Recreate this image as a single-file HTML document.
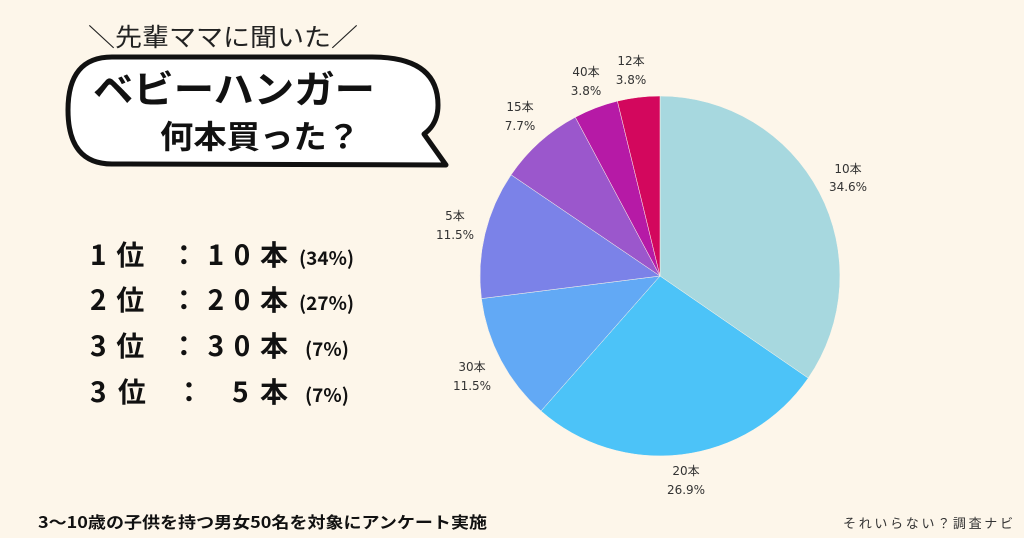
<!DOCTYPE html>
<html><head><meta charset="utf-8"><style>
body{margin:0;width:1024px;height:538px;background:#fdf6ea;overflow:hidden;font-family:"Liberation Sans","Noto Sans CJK JP",sans-serif}
</style></head><body>
<svg width="1024" height="538" xmlns="http://www.w3.org/2000/svg" style="position:absolute;left:0;top:0">
<rect width="1024" height="538" fill="#fdf6ea"/>
<path d="M112,57 L372,57 Q438,57 438,105 Q438,124 424,134 L446,165 L112,164 Q68,164 68,110 Q68,57 112,57 Z" fill="#fff" stroke="#111" stroke-width="5" stroke-linejoin="round"/>
<g font-family="'Noto Sans CJK JP',sans-serif" fill="#111">
<text x="88" y="46" font-size="25" fill="#222" textLength="270" lengthAdjust="spacingAndGlyphs">＼先輩ママに聞いた／</text>
<text x="93" y="103" font-size="38" font-weight="bold" textLength="282" lengthAdjust="spacingAndGlyphs">ベビーハンガー</text>
<text x="160" y="148" font-size="32" font-weight="bold" textLength="200" lengthAdjust="spacingAndGlyphs">何本買った？</text>
<text x="90" y="265" font-size="28" font-weight="bold" textLength="198" lengthAdjust="spacing">1位 ：10本</text>
<text x="90" y="310" font-size="28" font-weight="bold" textLength="198" lengthAdjust="spacing">2位 ：20本</text>
<text x="90" y="356" font-size="28" font-weight="bold" textLength="198" lengthAdjust="spacing">3位 ：30本</text>
<text x="90" y="402" font-size="28" font-weight="bold" textLength="198" lengthAdjust="spacing">3位 ：  5本</text>
<text x="299" y="265" font-size="19" font-weight="bold">(34%)</text>
<text x="299" y="310" font-size="19" font-weight="bold">(27%)</text>
<text x="305" y="356" font-size="19" font-weight="bold">(7%)</text>
<text x="305" y="402" font-size="19" font-weight="bold">(7%)</text>
<text x="38" y="528" font-size="16" font-weight="bold" textLength="449" lengthAdjust="spacingAndGlyphs">3〜10歳の子供を持つ男女50名を対象にアンケート実施</text>
<text x="843" y="528" font-size="13" fill="#333" textLength="170" lengthAdjust="spacing">それいらない？調査ナビ</text>
</g>
<g stroke="#fdf6ea" stroke-width="0.5">
<path d="M660,276 L660,96 A180,180 0 0,1 808.2,378.1 Z" fill="#a7d8df"/>
<path d="M660,276 L808.2,378.1 A180,180 0 0,1 541,411 Z" fill="#4cc3f8"/>
<path d="M660,276 L541,411 A180,180 0 0,1 481.4,298.6 Z" fill="#62a9f5"/>
<path d="M660,276 L481.4,298.6 A180,180 0 0,1 511.1,174.8 Z" fill="#7b82e8"/>
<path d="M660,276 L511.1,174.8 A180,180 0 0,1 575.3,117.2 Z" fill="#9b57cc"/>
<path d="M660,276 L575.3,117.2 A180,180 0 0,1 617.4,101.1 Z" fill="#b61aa6"/>
<path d="M660,276 L617.4,101.1 A180,180 0 0,1 660,96 Z" fill="#d3075d"/>
</g>
<g font-family="'DejaVu Sans','Noto Sans CJK JP',sans-serif" font-size="12" fill="#333" text-anchor="middle">
<text x="848" y="173">10本</text><text x="848" y="191">34.6%</text>
<text x="686" y="475">20本</text><text x="686" y="494">26.9%</text>
<text x="472" y="371">30本</text><text x="472" y="390">11.5%</text>
<text x="455" y="220">5本</text><text x="455" y="239">11.5%</text>
<text x="520" y="111">15本</text><text x="520" y="130">7.7%</text>
<text x="586" y="76">40本</text><text x="586" y="95">3.8%</text>
<text x="631" y="65">12本</text><text x="631" y="84">3.8%</text>
</g>
</svg>
</body></html>
